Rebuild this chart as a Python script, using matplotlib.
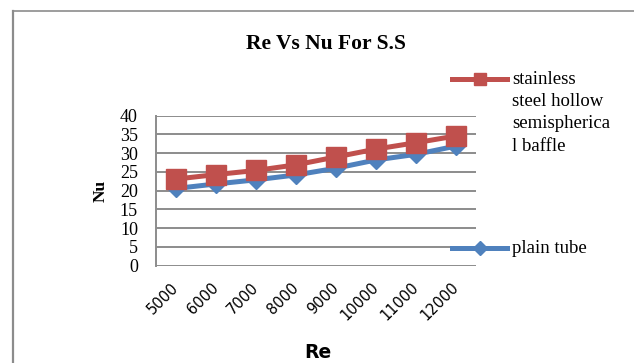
import matplotlib
matplotlib.use("Agg")
import matplotlib.pyplot as plt
from matplotlib.lines import Line2D

# Reynolds numbers and Nusselt numbers for stainless steel tube
re_values = ["5000", "6000", "7000", "8000", "9000", "10000", "11000", "12000"]
nu_baffle = [23.1, 24.3, 25.4, 26.9, 29.0, 31.1, 32.8, 34.6]
nu_plain = [20.6, 21.8, 22.9, 24.2, 26.0, 28.2, 29.7, 31.9]
y_ticks = [0, 5, 10, 15, 20, 25, 30, 35, 40]

label_baffle = "stainless\nsteel hollow\nsemispherica\nl baffle"
label_plain = "plain tube"

RED = "#C0504D"
BLUE = "#4F81BD"
GRID = "#8C8C8C"
SERIF = "Liberation Serif"

W, H = 634, 363
fig = plt.figure(figsize=(W / 100, H / 100), dpi=100)

# outer chart frame (top and left edges)
fig.add_artist(Line2D([13 / W, 13 / W], [0, 1 - 11 / H], color=GRID, lw=1.6))
fig.add_artist(Line2D([13 / W, 1], [1 - 11 / H, 1 - 11 / H], color=GRID, lw=1.2))

ax = fig.add_axes([156 / W, 1 - 265.7 / H, 320 / W, 150 / H])
x = list(range(len(re_values)))

plain_line, = ax.plot(x, nu_plain, color=BLUE, lw=3.6, marker="D", ms=9.5,
                      markeredgecolor=BLUE, zorder=3)
baffle_line, = ax.plot(x, nu_baffle, color=RED, lw=3.6, marker="s", ms=15,
                       markeredgecolor=RED, zorder=4)

ax.set_xlim(-0.5, len(re_values) - 0.5)
ax.set_ylim(0, 40)
ax.set_yticks(y_ticks)
ax.set_yticklabels([str(v) for v in y_ticks], fontfamily=SERIF, fontsize=13)
ax.set_xticks(x)
ax.set_xticklabels(re_values, rotation=45, ha="right", va="center",
                   rotation_mode="anchor", fontfamily="DejaVu Sans", fontsize=10.5)
ax.tick_params(axis="x", length=0, pad=14)
ax.tick_params(axis="y", length=0, pad=13)

ax.grid(axis="y", color=GRID, lw=1.4)
ax.set_axisbelow(True)
for side in ["top", "right", "bottom"]:
    ax.spines[side].set_visible(False)
ax.spines["left"].set_color(GRID)
ax.spines["left"].set_linewidth(1.4)

fig.text(326 / W, 1 - 44 / H, "Re Vs Nu For S.S", ha="center", va="center",
         fontfamily=SERIF, fontweight="bold", fontsize=15.5)
fig.text(101 / W, 1 - 191 / H, "Nu", ha="center", va="center", rotation=90,
         fontfamily=SERIF, fontweight="bold", fontsize=12.5)
fig.text(318 / W, 1 - 352 / H, "Re", ha="center", va="center",
         fontfamily="DejaVu Sans", fontweight="bold", fontsize=13.5)


def legend_entry(line, label, y_px, ms):
    """Draw a legend swatch copying the style of `line`, with its label."""
    xs = [452 / W, 507 / W]
    fig.add_artist(Line2D(xs, [1 - y_px / H] * 2, color=line.get_color(),
                          lw=line.get_linewidth()))
    fig.add_artist(Line2D([479.5 / W], [1 - y_px / H], color=line.get_color(),
                          marker=line.get_marker(), ms=ms,
                          markeredgecolor=line.get_color(), lw=0))
    fig.text(512 / W, 1 - (y_px - 8) / H, label, ha="left", va="top",
             fontfamily=SERIF, fontsize=13.5, linespacing=1.4)


legend_entry(baffle_line, label_baffle, 79, 8.5)
legend_entry(plain_line, label_plain, 248, 7)

fig.savefig("out.png", dpi=100)
